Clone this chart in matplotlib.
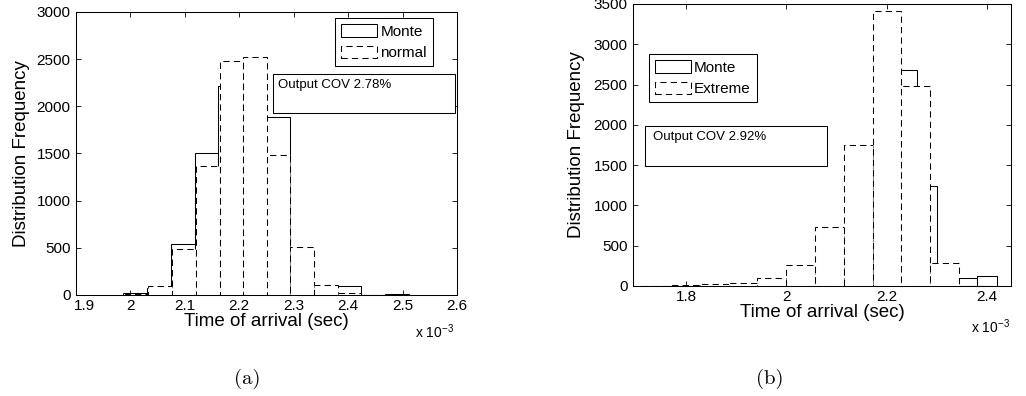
import numpy as np
import matplotlib
matplotlib.use('Agg')
import matplotlib.pyplot as plt
from matplotlib.patches import Patch, Rectangle
from matplotlib.ticker import FuncFormatter
from matplotlib.transforms import ScaledTranslation

plt.rcParams['font.family'] = ['Liberation Sans', 'DejaVu Sans']
plt.rcParams['mathtext.fontset'] = 'custom'
plt.rcParams['mathtext.rm'] = 'Liberation Sans'
plt.rcParams['mathtext.it'] = 'Liberation Sans:italic'
plt.rcParams['mathtext.bf'] = 'Liberation Sans:bold'

# ---------------- data (time in units of 1e-3 s) ----------------
# panel (a)
a_monte_edges = [1.986, 2.030, 2.074, 2.118, 2.161, 2.205, 2.249, 2.293, 2.336,
                 2.380, 2.424, 2.468, 2.511]
a_monte_counts = [20, 70, 538, 1502, 2215, 2450, 1885, 420, 60, 100, 0, 15]
a_normal_edges = [1.990, 2.033, 2.077, 2.120, 2.164, 2.207, 2.250, 2.294, 2.337,
                  2.381, 2.424, 2.467]
a_normal_counts = [15, 96, 485, 1370, 2480, 2528, 1480, 505, 110, 20, 3]
a_xticks = [1.9, 2.0, 2.1, 2.2, 2.3, 2.4, 2.5, 2.6]
a_yticks = [0, 500, 1000, 1500, 2000, 2500, 3000]
a_labels = ['Monte', 'normal']
a_note = 'Output COV 2.78%'

# panel (b)
b_monte_edges = [1.7397, 1.7797, 1.8197, 1.8597, 1.8997, 1.9397, 1.9797, 2.0197,
                 2.0597, 2.0997, 2.1397, 2.1797, 2.2197, 2.2597, 2.2997, 2.3397,
                 2.3797, 2.4197]
b_monte_counts = [2, 5, 8, 12, 20, 40, 70, 150, 400, 650, 1500, 3000, 2683, 1244,
                  200, 96, 124]
b_extreme_edges = [1.712, 1.770, 1.827, 1.885, 1.942, 1.999, 2.057, 2.114, 2.172,
                   2.229, 2.286, 2.344, 2.401]
b_extreme_counts = [3, 10, 25, 37, 95, 255, 734, 1750, 3407, 2484, 290, 2]
b_xticks = [1.8, 2.0, 2.2, 2.4]
b_yticks = [0, 500, 1000, 1500, 2000, 2500, 3000, 3500]
b_labels = ['Monte', 'Extreme']
b_note = 'Output COV 2.92%'

DASH = (0, (6, 4))
LW = 0.75

fig = plt.figure(figsize=(10.26, 3.96), dpi=100)
axA = fig.add_axes([0.0741, 0.2551, 0.3713, 0.7146])
axB = fig.add_axes([0.6170, 0.2778, 0.3684, 0.7121])


def draw_hist(ax, edges, counts, ls, z):
    e = np.asarray(edges, dtype=float)
    ax.bar(e[:-1], counts, width=np.diff(e), align='edge', facecolor='white',
           edgecolor='black', linewidth=LW, linestyle=ls, zorder=z)


def style(ax, xlim, ylim, xticks, yticks, ylabelpad):
    ax.set_xlim(*xlim)
    ax.set_ylim(*ylim)
    ax.set_xticks(xticks)
    ax.set_yticks(yticks)
    ax.xaxis.set_major_formatter(FuncFormatter(lambda v, p: f'{v:g}'))
    ax.yaxis.set_major_formatter(FuncFormatter(lambda v, p: f'{v:g}'))
    ax.tick_params(direction='in', top=True, right=True, length=3.5, width=0.6,
                   labelsize=11, pad=3)
    ax.tick_params(axis='y', pad=4)
    for s in ax.spines.values():
        s.set_linewidth(LW)
    ax.set_xlabel('Time of arrival (sec)', fontsize=13.5, labelpad=0)
    ax.set_ylabel('Distribution Frequency', fontsize=13.5, labelpad=ylabelpad)


def legend(ax, labels, loc, anchor):
    handles = [Patch(facecolor='white', edgecolor='black', linewidth=LW,
                     linestyle='-', label=labels[0]),
               Patch(facecolor='white', edgecolor='black', linewidth=LW,
                     linestyle=DASH, label=labels[1])]
    leg = ax.legend(handles=handles, loc=loc, bbox_to_anchor=anchor, fontsize=11,
                    frameon=True, fancybox=False, edgecolor='black', framealpha=1,
                    borderpad=0.4, handlelength=2.35, handleheight=0.9,
                    handletextpad=0.2, labelspacing=0.45, borderaxespad=0)
    leg.get_frame().set_linewidth(LW)
    leg.set_zorder(10)


def note(ax, text, x0, y0, x1, y1, tx, ty):
    ax.add_patch(Rectangle((x0, y0), x1 - x0, y1 - y0, transform=ax.transAxes,
                           facecolor='white', edgecolor='black', linewidth=LW,
                           zorder=9, clip_on=False))
    ax.text(tx, ty, text, transform=ax.transAxes, fontsize=9.5, ha='left',
            va='top', zorder=11)


# panel (a)
draw_hist(axA, a_monte_edges, a_monte_counts, '-', 2)
draw_hist(axA, a_normal_edges, a_normal_counts, DASH, 3)
style(axA, (1.9, 2.6), (0, 3000), a_xticks, a_yticks, 5)
legend(axA, a_labels, 'upper right', (0.937, 0.979))
note(axA, a_note, 0.517, 0.643, 0.995, 0.781, 0.530, 0.763)

# panel (b)
draw_hist(axB, b_monte_edges, b_monte_counts, '-', 2)
draw_hist(axB, b_extreme_edges, b_extreme_counts, DASH, 3)
style(axB, (1.694, 2.448), (0, 3500), b_xticks, b_yticks, 6)
legend(axB, b_labels, 'upper left', (0.042, 0.823))
note(axB, b_note, 0.032, 0.4255, 0.513, 0.567, 0.053, 0.550)

# the first x tick label of panel (a) sits a little to the right, as in the reference
fig.canvas.draw()
first = axA.get_xticklabels()[0]
first.set_transform(first.get_transform() +
                    ScaledTranslation(8 / 100, 0, fig.dpi_scale_trans))

# exponent labels
fig.text(454 / 1026, 1 - 332 / 396, r'x 10$^{\mathrm{-3}}$', fontsize=10,
         ha='right', va='center')
fig.text(1010 / 1026, 1 - 327 / 396, r'x 10$^{\mathrm{-3}}$', fontsize=10,
         ha='right', va='center')

# sub-captions
fig.text(247 / 1026, 1 - 379 / 396, '(a)', family='cmr10', fontsize=15,
         ha='center', va='center')
fig.text(770 / 1026, 1 - 379 / 396, '(b)', family='cmr10', fontsize=15,
         ha='center', va='center')

fig.savefig('out.png', dpi=100)
